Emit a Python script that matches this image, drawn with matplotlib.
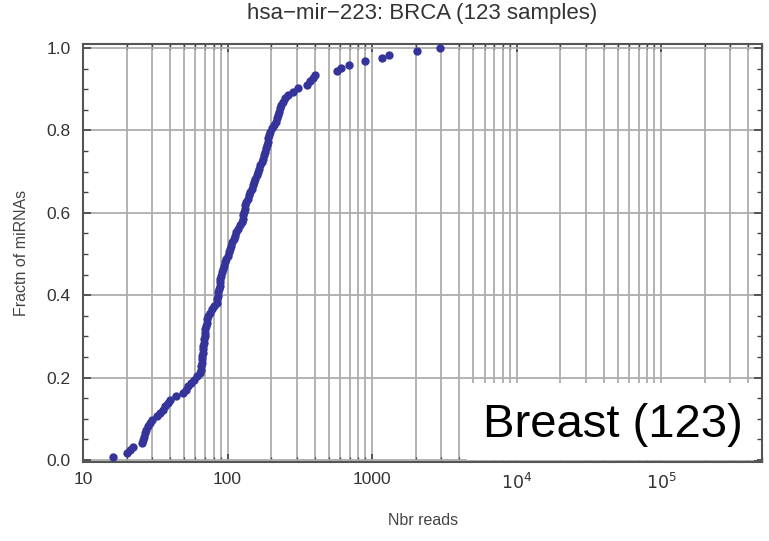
import numpy as np
import matplotlib
matplotlib.use('Agg')
from matplotlib import pyplot as plt
from matplotlib.ticker import FixedLocator, LogLocator, MultipleLocator, FixedFormatter
from matplotlib.patches import Rectangle

plt.rcParams['font.family'] = ['Liberation Sans', 'DejaVu Sans']

# read counts of the 123 BRCA samples, sorted
reads = [16, 20, 21, 22, 25.5, 26.2, 26.5, 26.8, 27.2, 28,
         29, 30.2, 32.5, 34.2, 35.5, 37, 38.5, 40, 44, 49.5,
         51.5, 53.5, 56, 58.5, 61.5, 64, 65.5, 66, 66.3, 66.6,
         66.9, 67.2, 67.5, 67.8, 68.3, 68.8, 69.3, 69.8, 70.3, 71,
         71.8, 72.6, 73.5, 75, 77.5, 80, 84, 85, 85.8, 86.5,
         87.3, 88, 88.6, 89.2, 90.5, 92, 93.5, 95, 96.5, 98,
         100, 102, 104, 106, 108, 110, 112.5, 115, 118, 122,
         126, 127, 128, 129, 131, 133, 135, 138, 141, 144,
         146.5, 149, 151.5, 155, 159, 162.5, 166, 169, 172, 175,
         178, 181, 183.5, 186, 189, 192, 195, 198, 203, 209,
         215, 220, 223, 227, 230, 234, 240, 248, 260, 285,
         309, 355, 372, 390, 402, 575, 610, 690, 890, 1170,
         1300, 2040, 2950]

n = len(reads)
frac = np.arange(1, n + 1) / n

xticks = [10, 100, 1000, 1e4, 1e5]
xticklabels = ['10', '100', '1000', '$10^4$', '$10^5$']
yticks = [0.0, 0.2, 0.4, 0.6, 0.8, 1.0]
yticklabels = ['0.0', '0.2', '0.4', '0.6', '0.8', '1.0']

fig = plt.figure(figsize=(7.69, 5.41), dpi=100)
ax = fig.add_axes([0.108, 0.146, 0.883, 0.7727])

ax.plot(reads, frac, 'o', color='#34349a', ms=6, mec='none', zorder=5)

ax.set_xscale('log')
ax.set_xlim(10, 5e5)
ax.set_ylim(-0.005, 1.0097)

ax.xaxis.set_major_locator(FixedLocator(xticks))
ax.xaxis.set_major_formatter(FixedFormatter(xticklabels))
ax.xaxis.set_minor_locator(LogLocator(base=10, subs=np.arange(2, 10), numticks=20))
ax.xaxis.set_minor_formatter(plt.NullFormatter())
ax.yaxis.set_major_locator(FixedLocator(yticks))
ax.yaxis.set_major_formatter(FixedFormatter(yticklabels))
ax.yaxis.set_minor_locator(MultipleLocator(0.05))

ax.grid(True, which='both', axis='x', color='#aeaeae', lw=1.3)
ax.grid(True, which='major', axis='y', color='#aeaeae', lw=1.3)
ax.set_axisbelow(True)

ax.tick_params(which='both', direction='in', top=True, right=True, color='#444444',
               labelcolor='#333333', labelsize=12.5)
ax.tick_params(which='major', length=6, width=1.2)
ax.tick_params(which='minor', length=3.5, width=1)
ax.tick_params(axis='y', which='major', pad=9)
ax.tick_params(axis='x', which='major', pad=7)
for s in ax.spines.values():
    s.set_color('#555555')
    s.set_linewidth(1.5)

ax.set_title('hsa\u2212mir\u2212223: BRCA (123 samples)', fontsize=16, color='#333333', pad=18)
ax.set_xlabel('Nbr reads', fontsize=11.5, color='#444444')
ax.set_ylabel('Fractn of miRNAs', fontsize=11.5, color='#444444')
ax.xaxis.set_label_coords(0.5, -0.122)
ax.yaxis.set_label_coords(-0.08, 0.5)

# white label box in the lower right corner, under the ticks but over the grid
box = Rectangle((0.607, 0.1497), 0.377, 0.1423, transform=fig.transFigure,
                facecolor='white', edgecolor='none', zorder=1)
ax.add_patch(box)
fig.text(0.797, 0.192, 'Breast (123)', fontsize=34, color='black',
         ha='center', va='baseline', zorder=6)

fig.savefig('out.png', dpi=100)
